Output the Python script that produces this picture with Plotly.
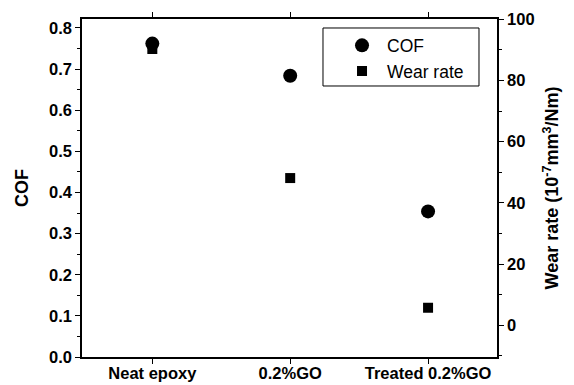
import plotly.graph_objects as go

categories = ["Neat epoxy", "0.2%GO", "Treated 0.2%GO"]
cof = [0.762, 0.684, 0.354]
wear_rate = [90.3, 48.1, 5.7]

FONT = "Liberation Sans, Arial, sans-serif"
TICK = dict(family=FONT, size=16.5, color="black", weight="bold")
TITLE = dict(family=FONT, size=18, color="black", weight="bold")

fig = go.Figure()
fig.add_trace(go.Scatter(
    x=categories, y=wear_rate, name="Wear rate", mode="markers",
    marker=dict(symbol="square", size=10, color="black"),
    yaxis="y2", legendrank=2))
fig.add_trace(go.Scatter(
    x=categories, y=cof, name="COF", mode="markers",
    marker=dict(symbol="circle", size=14, color="black"),
    legendrank=1))

# legend frame
fig.add_shape(type="rect", xref="paper", yref="paper",
              x0=0.5807, x1=0.9566, y0=0.8018, y1=0.9734,
              line=dict(color="black", width=1), fillcolor="white", layer="below")

fig.update_layout(
    width=574, height=385,
    margin=dict(l=82, r=77, t=19, b=28),
    paper_bgcolor="white", plot_bgcolor="white",
    font=dict(family=FONT, size=16, color="black"),
    showlegend=True,
    legend=dict(x=0.6145, y=0.975, xanchor="left", yanchor="top",
                borderwidth=0, bgcolor="rgba(0,0,0,0)",
                font=dict(family=FONT, size=17.5, color="black"),
                itemwidth=40, tracegroupgap=0),
    xaxis=dict(type="category", range=[-0.51, 2.5], automargin=False,
               showline=True, linecolor="black", linewidth=1.5,
               mirror="ticks", ticks="outside", ticklen=5, tickcolor="black",
               tickfont=TICK, ticklabelstandoff=-5,
               showgrid=False, zeroline=False),
    yaxis=dict(range=[0, 0.8218], tickvals=[0, 0.1, 0.2, 0.3, 0.4, 0.5, 0.6, 0.7, 0.8],
               ticktext=["0.0", "0.1", "0.2", "0.3", "0.4", "0.5", "0.6", "0.7", "0.8"],
               automargin=False,
               showline=True, linecolor="black", linewidth=1.5,
               ticks="outside", ticklen=5, tickcolor="black",
               minor=dict(ticks="outside", ticklen=3, tickcolor="black", dtick=0.05, tick0=0, showgrid=False),
               tickfont=TICK,
               title=dict(text="COF", font=TITLE, standoff=16),
               showgrid=False, zeroline=False),
    yaxis2=dict(range=[-10.4, 100.1], overlaying="y", side="right", automargin=False,
                tickvals=[0, 20, 40, 60, 80, 100],
                showline=True, linecolor="black", linewidth=1.5,
                ticks="outside", ticklen=5, tickcolor="black",
                minor=dict(ticks="outside", ticklen=3, tickcolor="black", dtick=10, tick0=0, showgrid=False),
                tickfont=TICK,
                title=dict(text="Wear rate (10<sup>-7</sup>mm<sup>3</sup>/Nm)", font=TITLE, standoff=12),
                showgrid=False, zeroline=False),
)

fig.write_html("out.html")
